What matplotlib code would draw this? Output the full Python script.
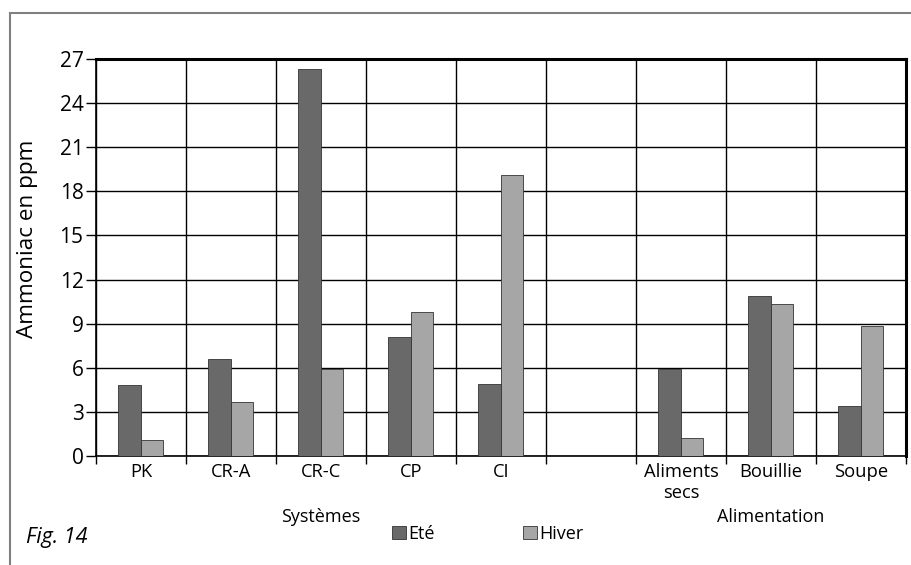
import numpy as np
import matplotlib
matplotlib.use("Agg")
import matplotlib.pyplot as plt
from matplotlib.patches import Rectangle, Patch

plt.rcParams['font.family'] = ['Open Sans', 'DejaVu Sans']

categories = ["PK", "CR-A", "CR-C", "CP", "CI", "", "Aliments\nsecs", "Bouillie", "Soupe"]
ete = [4.8, 6.6, 26.3, 8.1, 4.9, np.nan, 5.95, 10.9, 3.4]
hiver = [1.1, 3.7, 5.9, 9.8, 19.1, np.nan, 1.25, 10.35, 8.85]
yticks = [0, 3, 6, 9, 12, 15, 18, 21, 24, 27]
groups = [("Systèmes", 2), ("Alimentation", 7)]
series_names = ["Eté", "Hiver"]
c_ete = "#696969"
c_hiver = "#a6a6a6"

fig = plt.figure(figsize=(9.12, 5.65), dpi=100)
ax = fig.add_axes([96/912, 1-456/565, (906-96)/912, (456-59)/565])

x = np.arange(len(categories))
w = 0.25
ax.bar(x - w/2, ete, width=w, color=c_ete, edgecolor="#333333", linewidth=0.6, zorder=3)
ax.bar(x + w/2, hiver, width=w, color=c_hiver, edgecolor="#333333", linewidth=0.6, zorder=3)

ax.set_xlim(-0.5, len(categories) - 0.5)
ax.set_ylim(0, 27)
ax.set_yticks(yticks)
ax.set_yticklabels([str(v) for v in yticks], fontsize=15)
bounds = np.arange(-0.5, len(categories), 1.0)
ax.set_xticks(bounds)
ax.set_xticklabels([])
ax.set_xticks(x, minor=True)
ax.set_xticklabels(categories, minor=True, fontsize=13.2, linespacing=1.2)
ax.tick_params(axis='x', which='major', direction='out', length=6, width=1, color='black')
ax.tick_params(axis='x', which='minor', length=0, pad=5)
ax.tick_params(axis='y', direction='out', length=7, width=1, color='black', pad=2)
ax.grid(True, which='major', color='black', linewidth=1, zorder=0)
ax.set_axisbelow(True)
for s in ['left', 'bottom']:
    ax.spines[s].set_linewidth(1.2)
for s in ['top', 'right']:
    ax.spines[s].set_linewidth(2.2)

ax.set_ylabel("Ammoniac en ppm", fontsize=16.2)
ax.yaxis.set_label_coords(-0.072, 0.547)

for name, idx in groups:
    ax.text(idx, -61/397, name, transform=ax.get_xaxis_transform(),
            ha='center', va='center', fontsize=13)

handles = [Patch(facecolor=c_ete, edgecolor='#333333', linewidth=0.6),
           Patch(facecolor=c_hiver, edgecolor='#333333', linewidth=0.6)]
fig.legend(handles, series_names, ncol=2, loc='center',
           bbox_to_anchor=(488/912, 1-534/565), frameon=False, fontsize=13,
           handlelength=0.75, handleheight=0.75, handletextpad=0.15,
           columnspacing=4.9, borderpad=0)

fig.text(26/912, 1-537/565, "Fig. 14", fontsize=15.5, style='italic',
         ha='left', va='center')

fig.add_artist(Rectangle((10/912, -0.2), 1.2, 1 - 13/565 + 0.2,
                         transform=fig.transFigure, fill=False,
                         edgecolor='#808080', linewidth=1.5))

fig.savefig("out.png", dpi=100)
